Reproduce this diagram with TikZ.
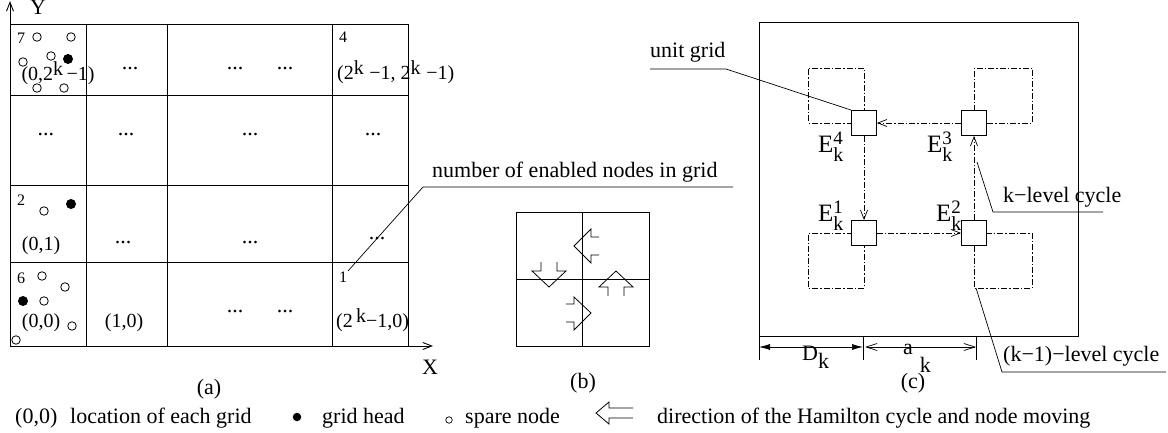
\documentclass[tikz,border=0pt]{standalone}
\usepackage{fontspec}
\setmainfont{Liberation Serif}
\usetikzlibrary{arrows.meta}
\newcommand\rk{\raisebox{5pt}{k}}
\newcommand\Ek[1]{E\rlap{\raisebox{8pt}{\fontsize{19}{19}\selectfont #1}}\raisebox{-9pt}{\fontsize{20}{20}\selectfont k}}
\begin{document}
\begin{tikzpicture}[x=1pt,y=-1pt,
  txt/.style={inner sep=0pt, font=\fontsize{22}{26}\selectfont},
  big/.style={inner sep=0pt, font=\fontsize{25}{28}\selectfont},
  crd/.style={inner sep=0pt, font=\fontsize{20}{23}\selectfont},
  num/.style={inner sep=0pt, font=\fontsize{16}{19}\selectfont},
  dots/.style={inner sep=0pt, font=\fontsize{22}{24}\selectfont},
  op/.style={circle, draw, line width=0.8pt, minimum size=8.5pt, inner sep=0pt},
  fl/.style={circle, fill, minimum size=10pt, inner sep=0pt},
  ln/.style={line width=0.9pt},
  thin/.style={line width=0.7pt},
  barb/.style={-{Straight Barb[length=9pt,width=7pt]}},
  dd/.style={line width=0.7pt, dash pattern=on 6pt off 2pt on 1.5pt off 2pt},
  usq/.style={draw, fill=white, line width=0.9pt, minimum size=25pt, inner sep=0pt},
  blk/.style={line width=0.8pt, line join=miter},
]
\useasboundingbox (0,0) rectangle (1168,433);

% ---------------- (a) ----------------
\draw[ln] (10,24) rectangle (408,346);
\foreach \x in {86,167,332} \draw[ln] (\x,24) -- (\x,346);
\foreach \y in {95,185,262} \draw[ln] (10,\y) -- (408,\y);
\coordinate (o) at (10,346);
\coordinate (ytip) at (10,1);
\coordinate (xtip) at (433,346);
\draw[ln,barb] (o) -- (ytip);
\draw[ln,barb] (o) -- (xtip);
\node[txt] (ylab) at (38,7) {Y};
\node[txt] (xlab) at (430,367) {X};

% numbers
\node[num,anchor=base] (n7) at (21,44) {7};
\node[num,anchor=base] (n2) at (21,206) {2};
\node[num,anchor=base] (n6) at (21,283) {6};
\node[num,anchor=base] (n4) at (343,43) {4};
\node[num,anchor=base] (n1) at (343,282) {1};

% coordinates
\node[crd,anchor=base] (c02) at (58,81) {(0,2\rk\,−1)};
\node[crd,anchor=base] (c01) at (41,250) {(0,1)};
\node[crd,anchor=base] (c00) at (41,327) {(0,0)};
\node[crd,anchor=base] (c10) at (124,327) {(1,0)};
\node[crd,anchor=base west] (c22) at (337,80) {(2\rk\;−1, 2\rk\;−1)};
\node[crd,anchor=base west] (c20) at (336,327) {(2\,\rk−1,0)};

% dots
\node[dots,anchor=base] (d11) at (130,70) {...};
\node[dots,anchor=base] (d12) at (235,70) {...};
\node[dots,anchor=base] (d13) at (285,70) {...};
\node[dots,anchor=base] (d21) at (46,136) {...};
\node[dots,anchor=base] (d22) at (126,136) {...};
\node[dots,anchor=base] (d23) at (250,136) {...};
\node[dots,anchor=base] (d24) at (373,136) {...};
\node[dots,anchor=base] (d31) at (123,243) {...};
\node[dots,anchor=base] (d32) at (250,243) {...};
\node[dots,anchor=base] (d33) at (377,239) {...};
\node[dots,anchor=base] (d41) at (235,312) {...};
\node[dots,anchor=base] (d42) at (285,312) {...};

% nodes in cells
\node[op] (a1) at (37,37) {};
\node[op] (a2) at (71,37) {};
\node[op] (a3) at (51,56) {};
\node[fl] (a4) at (68,59) {};
\node[op] (a5) at (23,62) {};
\node[op] (a6) at (37,88) {};
\node[op] (a7) at (64,88) {};
\node[op] (b1) at (44,211) {};
\node[fl] (b2) at (71,204) {};
\node[op] (e1) at (42,276) {};
\node[op] (e2) at (65,287) {};
\node[fl] (e3) at (23,301) {};
\node[op] (e4) at (44,301) {};
\node[op] (e5) at (72,326) {};
\node[op] (e6) at (16,340) {};

% leader
\node[txt,anchor=base west] (numlab) at (432,178) {number of enabled nodes in grid};
\coordinate (nl1) at (733,187);
\coordinate (nl2) at (423,187);
\coordinate (nl3) at (348,271);
\draw[thin] (nl1) -- (nl2) -- (nl3);

\node[txt,anchor=base] (la) at (209,394) {(a)};

% ---------------- (b) ----------------
\draw[ln] (516,212) rectangle (649,346);
\draw[ln] (582,212) -- (582,346);
\draw[ln] (516,279) -- (649,279);
\draw[blk] (599,237) -- (591,237) -- (591,229) -- (574,246) -- (591,263) -- (591,255) -- (599,255);
\draw[blk] (541,262) -- (541,271) -- (532,271) -- (549,287) -- (566,271) -- (557,271) -- (557,262);
\draw[blk] (608,296) -- (608,287) -- (599,287) -- (616,271) -- (633,287) -- (624,287) -- (624,296);
\draw[blk] (566,304) -- (574,304) -- (574,297) -- (591,313) -- (574,330) -- (574,322) -- (566,322);
\node[txt,anchor=base] (lb) at (583,388) {(b)};

% ---------------- (c) ----------------
\draw[ln] (759,22) rectangle (1078,336);
% dash-dot squares
\draw[dd] (864,123) -- (808,123) -- (808,68) -- (864,68) -- (864,123);
\draw[dd] (974,123) -- (974,68) -- (1032,68) -- (1032,123) -- (974,123);
\draw[dd] (864,233) -- (808,233) -- (808,288) -- (864,288) -- (864,233);
\draw[dd] (974,233) -- (1032,233) -- (1032,288) -- (974,288) -- (974,233);
% unit squares
\node[usq] (uTL) at (864,123) {};
\node[usq] (uTR) at (974,123) {};
\node[usq] (uBL) at (864,233) {};
\node[usq] (uBR) at (974,233) {};
% cycle
\draw[dd,barb] (uTR) -- (uTL);
\draw[dd,barb] (uTL) -- (uBL);
\draw[dd,barb] (uBL) -- (uBR);
\draw[dd,barb] (uBR) -- (uTR);
% labels
\node[big,anchor=base west] (E4) at (818,153) {\Ek{4}};
\node[big,anchor=base west] (E3) at (927,153) {\Ek{3}};
\node[big,anchor=base west] (E1) at (818,222) {\Ek{1}};
\node[big,anchor=base west] (E2) at (936,222) {\Ek{2}};

% unit grid leader
\node[txt,anchor=base west] (uglab) at (650,58) {unit grid};
\coordinate (ug1) at (650,69);
\coordinate (ug2) at (726,69);
\draw[thin] (ug1) -- (ug2) -- (uTL.north west);

% k-level cycle leader
\node[txt,anchor=base west] (klab) at (1003,203) {k−level cycle};
\coordinate (kl1) at (1103,212);
\coordinate (kl2) at (993,212);
\coordinate (kl3) at (977,162);
\draw[thin] (kl1) -- (kl2) -- (kl3);

% (k-1)-level cycle leader
\node[txt,anchor=base west] (k1lab) at (1003,361) {(k−1)−level cycle};
\coordinate (m1) at (976,288);
\coordinate (m2) at (1002,372);
\coordinate (m3) at (1166,372);
\draw[thin] (m1) -- (m2) -- (m3);

% dimensions
\coordinate (t1a) at (759,337); \coordinate (t1b) at (759,360);
\coordinate (t2a) at (863,337); \coordinate (t2b) at (863,360);
\coordinate (t3a) at (976,337); \coordinate (t3b) at (976,360);
\draw[thin] (t1a) -- (t1b);
\draw[thin] (t2a) -- (t2b);
\draw[thin] (t3a) -- (t3b);
\coordinate (D1) at (759,347); \coordinate (D2) at (863,347);
\coordinate (A1) at (865,347); \coordinate (A2) at (976,347);
\draw[thin,{Latex[length=11pt,width=6pt]}-{Latex[length=11pt,width=6pt]}] (D1) -- (D2);
\draw[thin,{Straight Barb[length=11pt,width=7pt]}-{Straight Barb[length=11pt,width=7pt]}] (A1) -- (A2);
\node[txt,anchor=base west] (Dk) at (802,360) {D\raisebox{-8pt}{k}};
\node[txt,anchor=base west] (ak) at (903,354) {a\hspace{7pt}\raisebox{-18pt}{k}};
\node[txt,anchor=base] (lc) at (913,388) {(c)};

% ---------------- legend ----------------
\node[txt,anchor=base west] (l00) at (15,423) {(0,0)};
\node[txt,anchor=base west] (lloc) at (70,423) {location of each grid};
\node[fl,minimum size=8.5pt] (lgh) at (297,417) {};
\node[txt,anchor=base west] (lghl) at (322,423) {grid head};
\node[op,minimum size=6.5pt,line width=0.7pt] (lsp) at (449,420) {};
\node[txt,anchor=base west] (lspl) at (465,423) {spare node};
\draw[blk] (633,408) -- (609,408) -- (609,402) -- (596,413) -- (609,424) -- (609,418) -- (633,418);
\node[txt,anchor=base west] (ldir) at (657,423) {direction of the Hamilton cycle and node moving};
\end{tikzpicture}
\end{document}
